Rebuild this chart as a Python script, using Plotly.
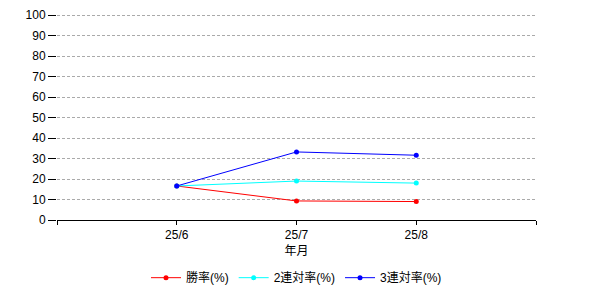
import plotly.graph_objects as go

categories = ["25/6", "25/7", "25/8"]
win_rate = [16.6, 9.3, 9.0]
top2_rate = [16.6, 19.0, 18.0]
top3_rate = [16.6, 33.2, 31.6]
series_names = ["勝率(%)", "2連対率(%)", "3連対率(%)"]
colors = ["#ff0000", "#00ffff", "#0000ff"]
y_ticks = list(range(0, 101, 10))

xpos = list(range(1, len(categories) + 1))
fig = go.Figure()
for name, vals, c in zip(series_names, [win_rate, top2_rate, top3_rate], colors):
    fig.add_trace(go.Scatter(x=xpos, y=vals, name=name, mode="lines+markers",
                             line=dict(color=c, width=1), marker=dict(color=c, size=5)))

font = "Liberation Sans, Noto Sans CJK JP, sans-serif"
fig.update_layout(
    width=600, height=300,
    margin=dict(l=57, r=64, t=8, b=80),
    plot_bgcolor="white", paper_bgcolor="white",
    font=dict(family=font, size=12, color="black"),
    showlegend=True,
    legend=dict(orientation="h", x=0.5, xanchor="center", y=-0.28, yanchor="middle",
                font=dict(size=12), itemwidth=30, tracegroupgap=0),
    xaxis=dict(range=[0, len(categories) + 1],
               tickvals=list(range(0, len(categories) + 2)),
               ticktext=[""] + categories + [""],
               ticks="outside", ticklen=4, tickcolor="black",
               showline=True, linecolor="black", linewidth=1,
               showgrid=False, zeroline=False,
               title=dict(text="年月", standoff=5, font=dict(size=12))),
    yaxis=dict(range=[0, 100.5], tickvals=y_ticks,
               ticks="outside", ticklen=8, tickcolor="black",
               showline=False, zeroline=False,
               showgrid=True, gridcolor="#aaaaaa", griddash="3px,2px", gridwidth=1),
)
fig.write_html("out.html")
